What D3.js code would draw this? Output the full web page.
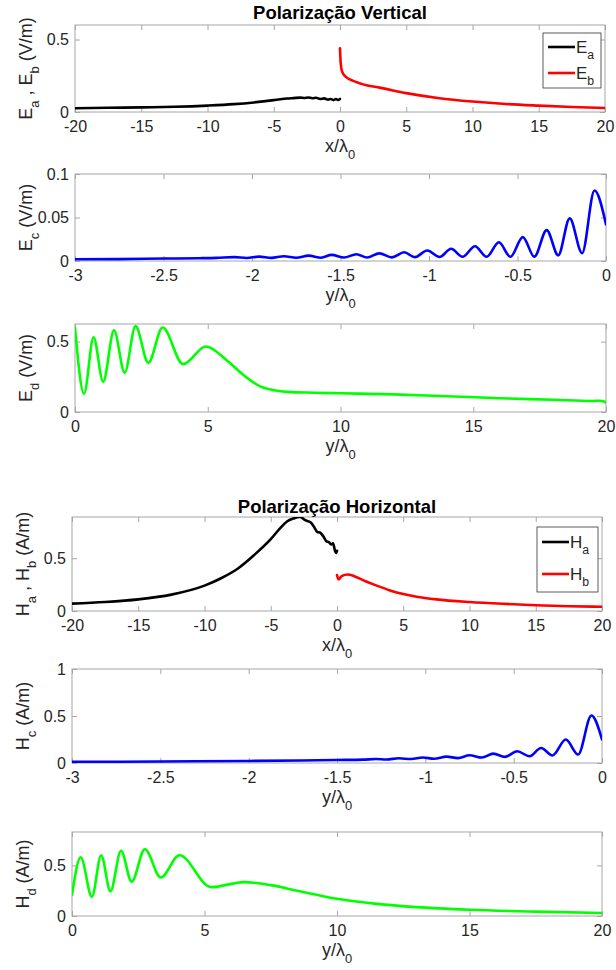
<!DOCTYPE html>
<html>
<head>
<meta charset="utf-8">
<script src="https://cdn.jsdelivr.net/npm/d3@7"></script>
<style>
  body { margin: 0; background: #fff; }
  text { font-family: "Liberation Sans", Arial, Helvetica, sans-serif; fill: #262626; white-space: pre; }
</style>
</head>
<body>
<svg id="chart" width="616" height="970"></svg>
<script>
// ---- tick values ----
const xTicksWide = [-20, -15, -10, -5, 0, 5, 10, 15, 20];
const xTicksNeg = [-3, -2.5, -2, -1.5, -1, -0.5, 0];
const xTicksPos = [0, 5, 10, 15, 20];
const yTicksHalf = [0, 0.5];
const yTicksEc = [0, 0.05, 0.1];
const yTicksHc = [0, 0.5, 1];

// ---- vertical polarisation ----
const eaX = [-20, -17.5, -15, -12.5, -10, -8, -6.5, -5, -4.5, -4, -3.5, -3, -2.7, -2.4, -2.1, -1.8, -1.5, -1.2, -0.9, -0.7, -0.5, -0.3, -0.15, 0];
const eaY = [0.026, 0.029, 0.032, 0.036, 0.044, 0.054, 0.066, 0.082, 0.088, 0.093, 0.096, 0.099, 0.097, 0.1, 0.095, 0.098, 0.09, 0.094, 0.085, 0.09, 0.082, 0.09, 0.083, 0.09];

const ebX = [0, 0.05, 0.15, 0.4, 1, 2, 3, 5, 7.5, 10, 12.5, 15, 17.5, 20];
const ebY = [0.44, 0.34, 0.28, 0.245, 0.215, 0.185, 0.168, 0.13, 0.095, 0.072, 0.055, 0.044, 0.035, 0.028];

const ecX = [-3, -2.75, -2.5, -2.3, -2.2, -2.1, -2.03, -1.96, -1.89, -1.82, -1.75, -1.68, -1.61, -1.55, -1.48, -1.41, -1.35, -1.28, -1.21, -1.14, -1.08, -1.01, -0.94, -0.875, -0.81, -0.74, -0.675, -0.605, -0.54, -0.47, -0.405, -0.335, -0.27, -0.205, -0.135, -0.065, 0];
const ecY = [0.002, 0.0022, 0.0028, 0.0032, 0.0036, 0.0045, 0.0035, 0.005, 0.0036, 0.0055, 0.0038, 0.0062, 0.0038, 0.007, 0.004, 0.0078, 0.004, 0.0088, 0.0042, 0.01, 0.0044, 0.012, 0.0046, 0.014, 0.0048, 0.017, 0.0048, 0.0215, 0.0048, 0.0275, 0.005, 0.0355, 0.0065, 0.049, 0.009, 0.081, 0.042];

const edX = [0, 0.34, 0.7, 1.06, 1.47, 1.87, 2.28, 2.76, 3.3, 4.07, 4.93, 5.7, 6.3, 7, 7.5, 8, 9, 10, 12, 14, 16, 18, 19.5, 19.75, 20];
const edY = [0.6, 0.13, 0.53, 0.215, 0.58, 0.28, 0.61, 0.35, 0.6, 0.34, 0.465, 0.37, 0.27, 0.18, 0.155, 0.143, 0.137, 0.133, 0.125, 0.112, 0.098, 0.087, 0.078, 0.08, 0.07];

// ---- horizontal polarisation ----
const haX = [-20, -17.5, -15, -12.5, -10, -8.75, -7.5, -6.25, -5, -4.25, -3.75, -3.3, -2.8, -2.4, -2, -1.75, -1.5, -1.25, -1, -0.8, -0.6, -0.45, -0.3, -0.15, -0.07, 0];
const haY = [0.07, 0.085, 0.11, 0.155, 0.24, 0.31, 0.4, 0.53, 0.68, 0.79, 0.85, 0.875, 0.89, 0.86, 0.84, 0.8, 0.75, 0.74, 0.7, 0.66, 0.65, 0.63, 0.64, 0.57, 0.55, 0.57];

const hbX = [0, 0.12, 0.35, 0.8, 1.3, 2, 3, 4, 5, 6, 7.5, 10, 12.5, 15, 17.5, 20];
const hbY = [0.34, 0.3, 0.33, 0.345, 0.33, 0.29, 0.24, 0.195, 0.16, 0.135, 0.11, 0.085, 0.068, 0.055, 0.045, 0.04];

const hcX = [-3, -2.5, -2, -1.7, -1.5, -1.35, -1.28, -1.22, -1.15, -1.08, -1.015, -0.95, -0.88, -0.815, -0.75, -0.68, -0.615, -0.55, -0.48, -0.41, -0.345, -0.28, -0.205, -0.135, -0.06, 0];
const hcY = [0.012, 0.016, 0.022, 0.027, 0.032, 0.036, 0.042, 0.038, 0.05, 0.042, 0.058, 0.046, 0.068, 0.052, 0.082, 0.058, 0.1, 0.065, 0.125, 0.072, 0.16, 0.08, 0.25, 0.09, 0.505, 0.25];

const hdX = [0, 0.33, 0.75, 1.1, 1.45, 1.85, 2.25, 2.75, 3.35, 4.05, 5.25, 6.5, 7.5, 8.5, 10, 11.5, 13, 15, 17.5, 20];
const hdY = [0.21, 0.58, 0.19, 0.6, 0.245, 0.645, 0.34, 0.66, 0.38, 0.6, 0.285, 0.335, 0.305, 0.25, 0.17, 0.12, 0.088, 0.062, 0.043, 0.03];

const svg = d3.select('#chart');
const gridColor = '#a6a6a6';

// text with MATLAB-style subscripts: parts = [[text, isSub], ...]
function richText(sel, parts, size) {
  let shift = 0;
  parts.forEach(([t, sub]) => {
    const want = sub ? size * 0.38 : 0;
    sel.append('tspan')
      .attr('dy', want - shift)
      .style('font-size', (sub ? size * 0.72 : size) + 'px')
      .text(t);
    shift = want;
  });
}

const panels = [
  { box: [75, 25, 605, 112], xd: [-20, 20], xt: xTicksWide, yd: [0, 0.6], yt: yTicksHalf,
    series: [[eaX, eaY, '#000000'], [ebX, ebY, '#ff0000']],
    title: ['Polarização Vertical', 19],
    ylab: [['E'], ['a', 1], [' , E'], ['b', 1], [' (V/m)']],
    xlab: [['x/λ'], ['0', 1]],
    legend: { box: [543, 33, 601, 88], rows: [[47, [['E'], ['a', 1]]], [73, [['E'], ['b', 1]]]] } },
  { box: [75, 174, 606, 261], xd: [-3, 0], xt: xTicksNeg, yd: [0, 0.1], yt: yTicksEc,
    series: [[ecX, ecY, '#0000ff']],
    ylab: [['E'], ['c', 1], [' (V/m)']],
    xlab: [['y/λ'], ['0', 1]] },
  { box: [75, 324, 606, 412], xd: [0, 20], xt: xTicksPos, yd: [0, 0.625], yt: yTicksHalf,
    series: [[edX, edY, '#00ff00']],
    ylab: [['E'], ['d', 1], [' (V/m)']],
    xlab: [['y/λ'], ['0', 1]] },
  { box: [72, 517, 602, 611], xd: [-20, 20], xt: xTicksWide, yd: [0, 0.89], yt: yTicksHalf,
    series: [[haX, haY, '#000000'], [hbX, hbY, '#ff0000']],
    title: ['Polarização Horizontal', 513],
    ylab: [['H'], ['a', 1], [' , H'], ['b', 1], [' (A/m)']],
    xlab: [['x/λ'], ['0', 1]],
    legend: { box: [537, 527, 598, 592], rows: [[542, [['H'], ['a', 1]]], [574, [['H'], ['b', 1]]]] } },
  { box: [72, 669, 602, 763], xd: [-3, 0], xt: xTicksNeg, yd: [0, 1], yt: yTicksHc,
    series: [[hcX, hcY, '#0000ff']],
    ylab: [['H'], ['c', 1], [' (A/m)']],
    xlab: [['y/λ'], ['0', 1]] },
  { box: [72, 832, 602, 916], xd: [0, 20], xt: xTicksPos, yd: [0, 0.83], yt: yTicksHalf,
    series: [[hdX, hdY, '#00ff00']],
    ylab: [['H'], ['d', 1], [' (A/m)']],
    xlab: [['y/λ'], ['0', 1]] }
];

panels.forEach((p, i) => {
  const [x0, y0, x1, y1] = p.box;
  const x = d3.scaleLinear().domain(p.xd).range([x0, x1]);
  const y = d3.scaleLinear().domain(p.yd).range([y1, y0]);
  const g = svg.append('g');

  // clip to axes
  const clipId = 'clip' + i;
  svg.append('clipPath').attr('id', clipId)
    .append('rect').attr('x', x0).attr('y', y0).attr('width', x1 - x0).attr('height', y1 - y0);

  // ticks (inward, on all four sides like MATLAB box on)
  const styleAxis = a => {
    a.select('.domain').remove();
    a.selectAll('.tick line').attr('stroke', gridColor);
    a.selectAll('.tick text').style('font-size', '16px').attr('fill', '#262626');
  };
  g.append('g').attr('transform', `translate(0,${y1})`)
    .call(d3.axisBottom(x).tickValues(p.xt).tickSizeInner(-5).tickSizeOuter(0).tickPadding(9).tickFormat(d => String(d)))
    .call(styleAxis);
  g.append('g').attr('transform', `translate(0,${y0})`)
    .call(d3.axisTop(x).tickValues(p.xt).tickSizeInner(-5).tickSizeOuter(0).tickFormat(''))
    .call(styleAxis);
  g.append('g').attr('transform', `translate(${x0},0)`)
    .call(d3.axisLeft(y).tickValues(p.yt).tickSizeInner(-5).tickSizeOuter(0).tickPadding(6).tickFormat(d => String(d)))
    .call(styleAxis);
  g.append('g').attr('transform', `translate(${x1},0)`)
    .call(d3.axisRight(y).tickValues(p.yt).tickSizeInner(-5).tickSizeOuter(0).tickFormat(''))
    .call(styleAxis);
  g.selectAll('text').attr('font-family', null);

  g.append('rect')
    .attr('x', x0).attr('y', y0).attr('width', x1 - x0).attr('height', y1 - y0)
    .attr('fill', 'none').attr('stroke', gridColor).attr('stroke-width', 1);

  // curves
  const line = d3.line().x(d => x(d[0])).y(d => y(d[1])).curve(d3.curveMonotoneX);
  p.series.forEach(([xs, ys, color]) => {
    g.append('path')
      .datum(xs.map((v, k) => [v, ys[k]]))
      .attr('clip-path', `url(#${clipId})`)
      .attr('d', line)
      .attr('fill', 'none')
      .attr('stroke', color)
      .attr('stroke-width', 2.6)
      .attr('stroke-linejoin', 'round')
      .attr('stroke-linecap', 'round');
  });

  // title
  if (p.title) {
    g.append('text')
      .attr('x', (x0 + x1) / 2).attr('y', p.title[1])
      .attr('text-anchor', 'middle')
      .style('font-size', '18.5px').style('font-weight', 'bold').style('fill', '#000')
      .text(p.title[0]);
  }

  // y label
  const yl = g.append('text')
    .attr('text-anchor', 'middle')
    .attr('transform', `translate(${x0 - 43},${(y0 + y1) / 2}) rotate(-90)`);
  richText(yl, p.ylab, 18);

  // x label
  const xl = g.append('text')
    .attr('text-anchor', 'middle')
    .attr('x', (x0 + x1) / 2).attr('y', y1 + 40);
  richText(xl, p.xlab, 18);

  // legend
  if (p.legend) {
    const [lx0, ly0, lx1, ly1] = p.legend.box;
    g.append('rect')
      .attr('x', lx0).attr('y', ly0).attr('width', lx1 - lx0).attr('height', ly1 - ly0)
      .attr('fill', '#fff').attr('stroke', '#333').attr('stroke-width', 0.8);
    p.legend.rows.forEach(([ly, parts], k) => {
      g.append('line')
        .attr('x1', lx0 + 5).attr('x2', lx0 + 32).attr('y1', ly).attr('y2', ly)
        .attr('stroke', p.series[k][2]).attr('stroke-width', 2.6);
      const t = g.append('text').attr('x', lx0 + 33).attr('y', ly + 6);
      richText(t, parts, 17);
    });
  }
});
</script>
</body>
</html>
